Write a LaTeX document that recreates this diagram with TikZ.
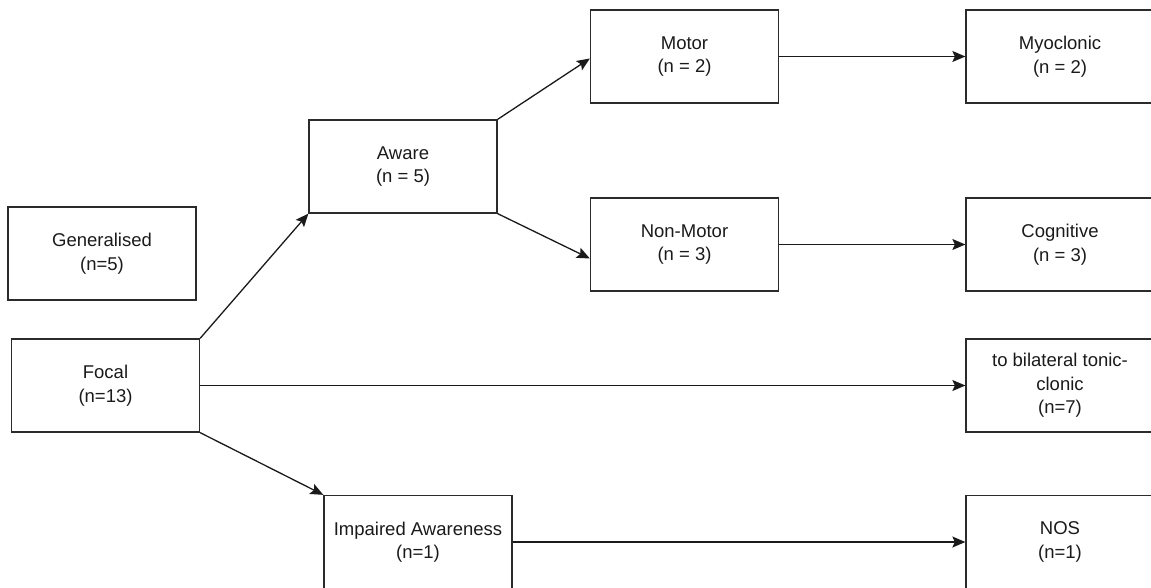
\documentclass[tikz,border=0pt]{standalone}
\usepackage{fontspec}
\setmainfont{Liberation Sans}
\usetikzlibrary{arrows.meta,calc}
\definecolor{ink}{HTML}{1a1a1a}
\definecolor{edge}{HTML}{2b2b2b}
\tikzset{
  box/.style={draw=edge, line width=1.3pt, rectangle, minimum width=188pt, minimum height=93pt,
    inner sep=0pt, align=center, text=ink, font=\fontsize{18.5pt}{23.5pt}\selectfont},
  link/.style={draw=ink, line width=1.3pt, -{Stealth[length=13pt,width=11pt,inset=2.5pt]}}
}
\begin{document}
\begin{tikzpicture}[x=1pt,y=-1pt]
\useasboundingbox (0,0) rectangle (1151,588);
\clip (0,0) rectangle (1151,588);
\node[box] (gen) at (102,253.5) {Generalised\\(n=5)};
\node[box] (focal) at (105.5,385.5) {Focal\\(n=13)};
\node[box] (aware) at (403,166.5) {Aware\\(n = 5)};
\node[box] (motor) at (684.5,56.5) {Motor\\(n = 2)};
\node[box] (nonmotor) at (684.5,244.5) {Non-Motor\\(n = 3)};
\node[box] (myo) at (1060,56.5) {Myoclonic\\(n = 2)};
\node[box] (cog) at (1060,244.5) {Cognitive\\(n = 3)};
\node[box] (bil) at (1060,385.5) {to bilateral tonic-\\clonic\\(n=7)};
\node[box] (imp) at (418,542) {Impaired Awareness\\(n=1)};
\node[box] (nos) at (1060,542) {NOS\\(n=1)};
\coordinate (motorin) at ($(motor.west)+(0,2)$);
\coordinate (nonmotorin) at ($(nonmotor.west)+(0,14)$);
\draw[link] (aware.north east) -- (motorin);
\draw[link] (aware.south east) -- (nonmotorin);
\draw[link] (motor.east) -- (myo.west);
\draw[link] (nonmotor.east) -- (cog.west);
\draw[link] (focal.north east) -- (aware.south west);
\draw[link] (focal.east) -- (bil.west);
\draw[link] (focal.south east) -- (imp.north west);
\draw[link] (imp.east) -- (imp.east -| nos.west);
\end{tikzpicture}
\end{document}
